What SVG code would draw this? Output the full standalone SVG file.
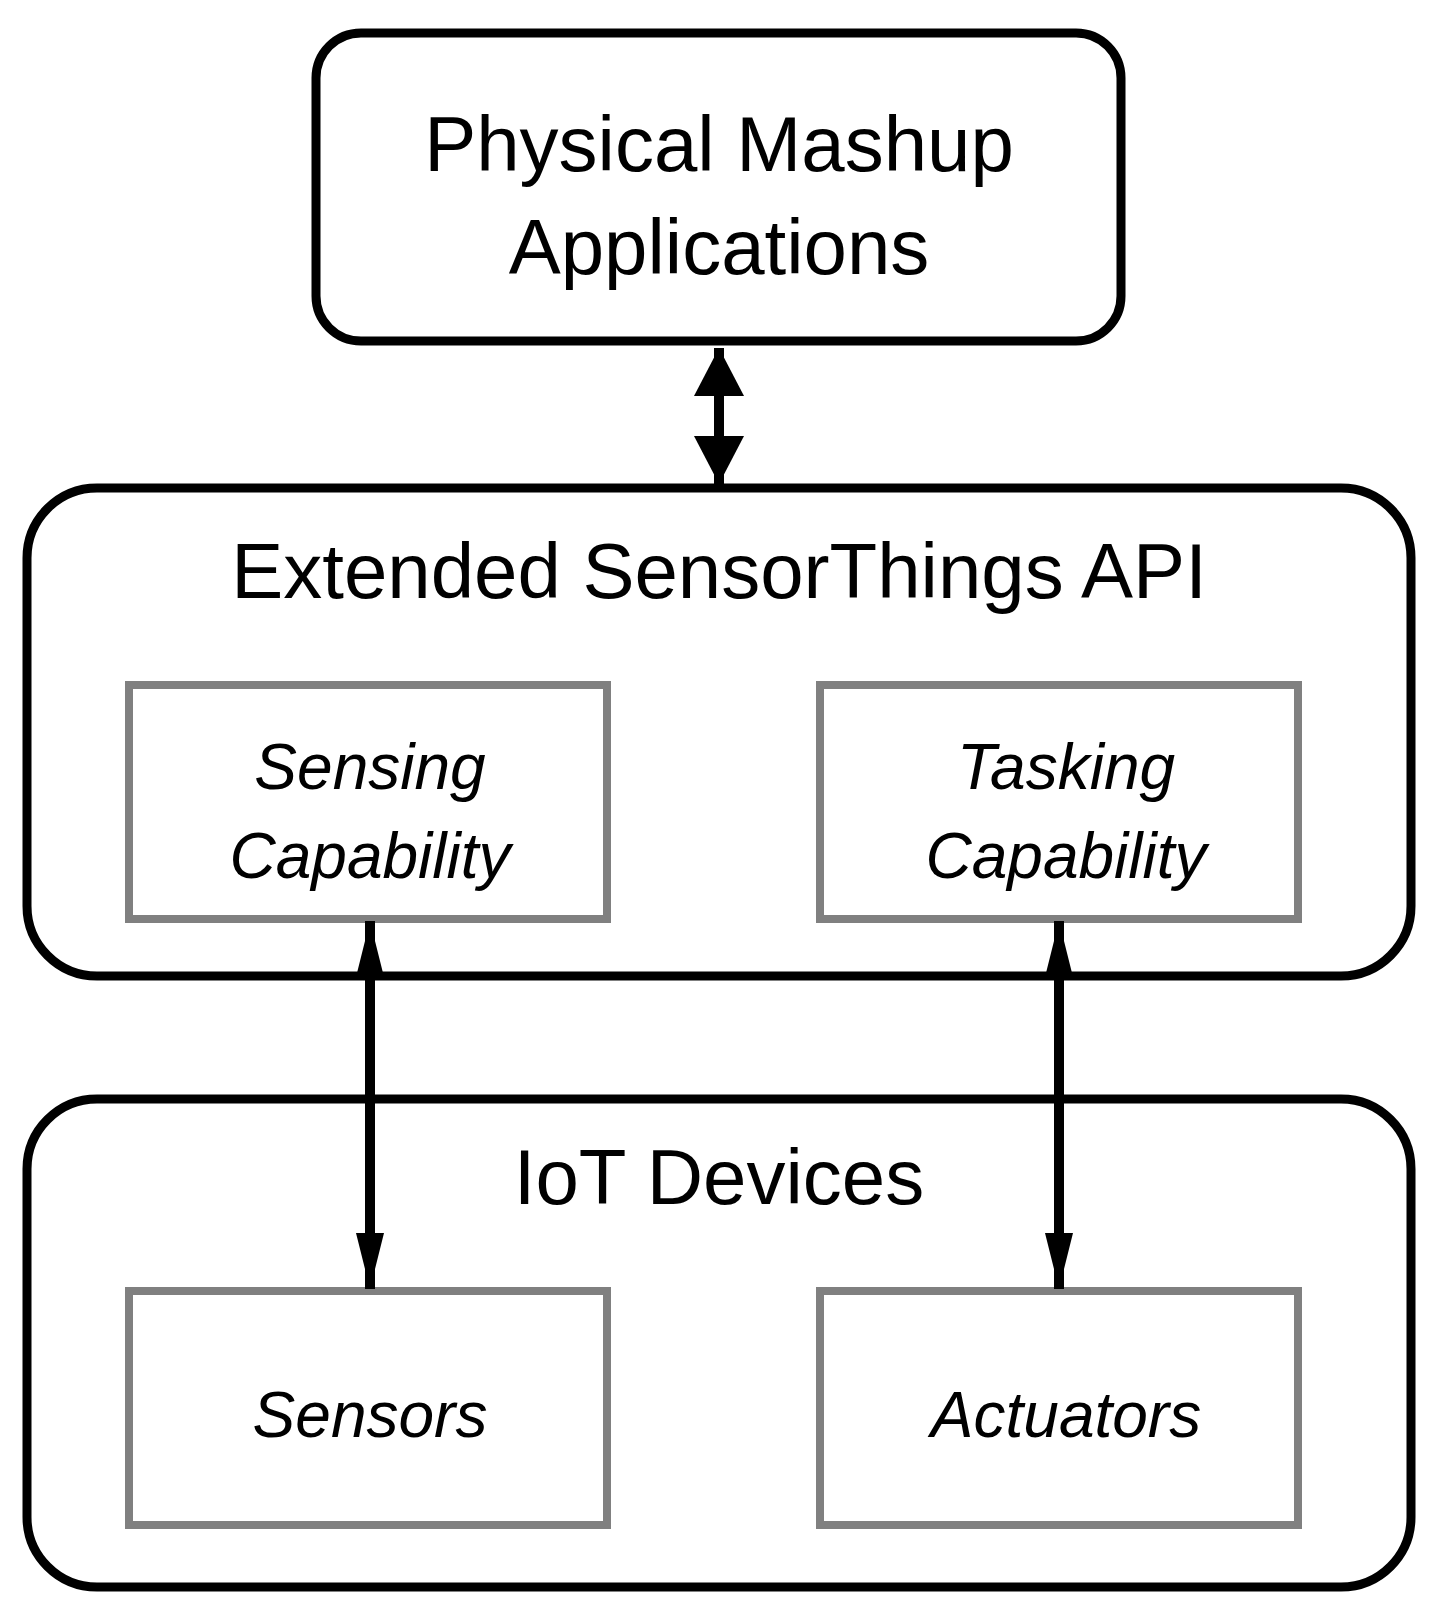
<svg xmlns="http://www.w3.org/2000/svg" width="1438" height="1618" viewBox="0 0 1438 1618">
<style>
.big{fill:#fff;stroke:#000;stroke-width:9}
.sub{fill:#fff;stroke:#808080;stroke-width:8}
text{font-family:"Liberation Sans",Arial,sans-serif;text-anchor:middle;fill:#000}
.t1{font-size:78px}
.t2{font-size:64px;font-style:italic}
.c{stroke:#000;stroke-width:10;fill:none}
</style>
<defs>
<marker id="ah" markerUnits="userSpaceOnUse" markerWidth="60" markerHeight="80" refX="56" refY="28" orient="auto-start-reverse" viewBox="0 0 60 56">
<path d="M0,14 L56,28 L0,42 Z" fill="#000"/>
</marker>
<marker id="ahs" markerUnits="userSpaceOnUse" markerWidth="50" markerHeight="50" refX="48" refY="25" orient="auto-start-reverse" viewBox="0 0 50 50">
<path d="M0,0 L48,25 L0,50 Z" fill="#000"/>
</marker>
</defs>
<g id="apps">
<rect class="big" x="316" y="33" width="805" height="308" rx="45"/>
<text class="t1" x="719" y="171">Physical Mashup</text>
<text class="t1" x="719" y="274">Applications</text>
</g>
<g id="sta">
<rect class="big" x="27" y="488" width="1384" height="488" rx="70"/>
<text class="t1" x="719" y="598">Extended SensorThings API</text>
</g>
<g id="sensing">
<rect class="sub" x="129" y="685" width="478" height="234"/>
<text class="t2" x="370" y="789">Sensing</text>
<text class="t2" x="370" y="878">Capability</text>
</g>
<g id="tasking">
<rect class="sub" x="820" y="685" width="478" height="234"/>
<text class="t2" x="1066" y="789">Tasking</text>
<text class="t2" x="1066" y="878">Capability</text>
</g>
<g id="iot">
<rect class="big" x="27" y="1099" width="1384" height="488" rx="70"/>
<text class="t1" x="719" y="1204">IoT Devices</text>
</g>
<g id="sensors">
<rect class="sub" x="129" y="1291" width="478" height="234"/>
<text class="t2" x="370" y="1437">Sensors</text>
</g>
<g id="actuators">
<rect class="sub" x="820" y="1291" width="478" height="234"/>
<text class="t2" x="1066" y="1437">Actuators</text>
</g>
<g id="connectors">
<line class="c" x1="719" y1="348" x2="719" y2="484" marker-start="url(#ahs)" marker-end="url(#ahs)"/>
<line class="c" x1="370" y1="921" x2="370" y2="1289" marker-start="url(#ah)" marker-end="url(#ah)"/>
<line class="c" x1="1059" y1="921" x2="1059" y2="1289" marker-start="url(#ah)" marker-end="url(#ah)"/>
</g>
</svg>
